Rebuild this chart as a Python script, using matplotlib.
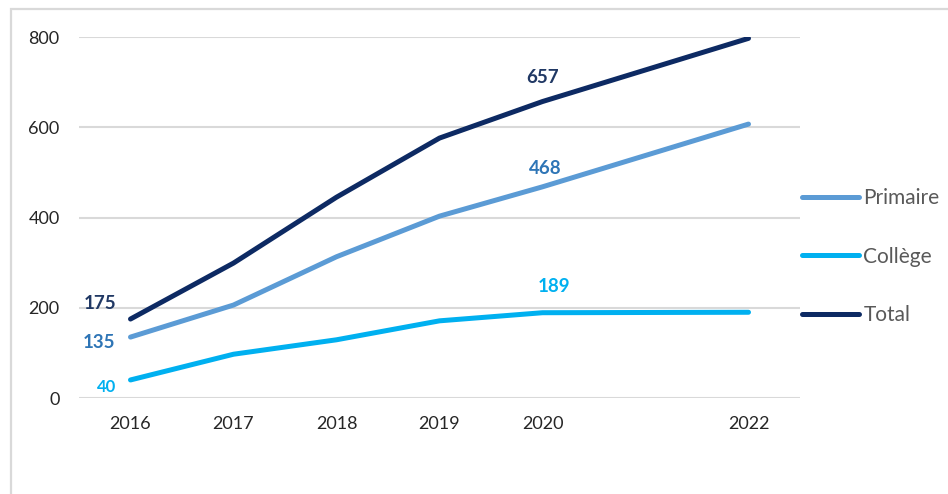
import matplotlib
matplotlib.use("Agg")
import matplotlib.pyplot as plt
from matplotlib.patches import Rectangle

years = [2016, 2017, 2018, 2019, 2020, 2022]
primaire = [135, 206, 313, 403, 468, 607]
college = [40, 97, 129, 171, 189, 190]
total = [175, 299, 445, 576, 657, 797]
yticks = [0, 200, 400, 600, 800]

plt.rcParams['font.family'] = ['Lato', 'DejaVu Sans']

fig = plt.figure(figsize=(9.48, 4.94), dpi=100)
ax = fig.add_axes([79/948, 1-398/494, (800-79)/948, (398-37)/494])

# outer light border
fig.patches.append(Rectangle((11/948, -0.1), 1.2, 1 - 9/494 + 0.1, transform=fig.transFigure,
                             fill=False, edgecolor='#D9D9D9', linewidth=1.6, zorder=0))

c_prim = '#5B9BD5'
c_col = '#00B0F0'
c_tot = '#0D2A63'

lw = 3.6
l1, = ax.plot(years, primaire, color=c_prim, lw=lw, solid_capstyle='round', label='Primaire', zorder=3)
l2, = ax.plot(years, college, color=c_col, lw=lw, solid_capstyle='round', label='Collège', zorder=3)
l3, = ax.plot(years, total, color=c_tot, lw=lw, solid_capstyle='round', label='Total', zorder=3)

ax.set_xlim(2015.5, 2022.5)
ax.set_ylim(0, 800)
ax.set_yticks(yticks)
ax.set_xticks(years)
ax.set_xticklabels([str(y) for y in years])
ax.grid(axis='y', color='#D9D9D9', linewidth=1.5)
ax.set_axisbelow(True)
for s in ax.spines.values():
    s.set_visible(False)
ax.tick_params(length=0, labelsize=13, colors='#262626')
ax.tick_params(axis='y', pad=14)
ax.tick_params(axis='x', pad=13)

# data labels
def lab(x, y, dx, dy, color, size=13.5):
    ax.annotate(str(y), xy=(x, y), xytext=(dx, dy), textcoords='offset points',
                ha='center', va='center', color=color, fontsize=size, fontweight='bold')

lab(years[0], total[0], -22, 11, '#203864')
lab(years[0], primaire[0], -23, -4, '#2E75B6')
lab(years[0], college[0], -17, -5, '#00B0F0', size=12)
lab(years[4], total[4], 0, 17, '#203864')
lab(years[4], primaire[4], 2, 13, '#2E75B6')
lab(years[4], college[4], 8, 19, '#00B0F0')

leg = fig.legend(handles=[l1, l2, l3], loc='upper left', bbox_to_anchor=(802/948, 1-188/494),
                 frameon=False, fontsize=15, handlelength=2.75, handletextpad=0.2,
                 labelspacing=1.85, borderaxespad=0, borderpad=0)
for t in leg.get_texts():
    t.set_color('#595959')

fig.savefig('out.png', dpi=100)
